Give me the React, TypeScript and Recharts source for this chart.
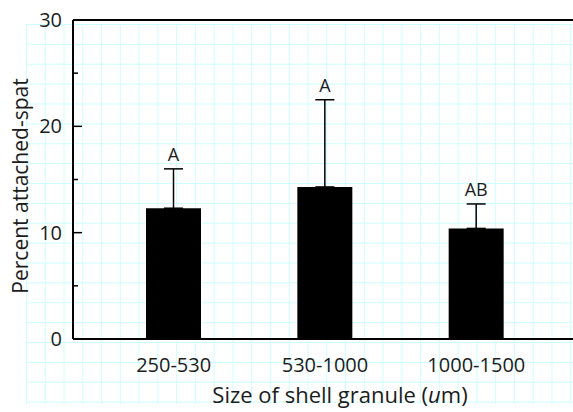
import React from 'react';
import { BarChart, Bar, XAxis, YAxis, ErrorBar, LabelList, ReferenceLine, Label } from 'recharts';

const categories = ['250-530', '530-1000', '1000-1500'];
const means = [12.3, 14.3, 10.4];
const errors = [3.7, 8.2, 2.3];
const letters = ['A', 'A', 'AB'];
const yTicks = [0, 5, 10, 15, 20, 25, 30];

const data = categories.map((name, i) => ({
  name,
  mean: means[i],
  err: [0, errors[i]],
  letter: letters[i],
}));

const FONT = '"Open Sans", sans-serif';
const INK = '#1c1c1c';

const YTick = (props: any) => {
  const { x, y, payload } = props;
  const major = payload.value % 10 === 0;
  return (
    <g>
      <line x1={x} x2={x + (major ? 9 : 5)} y1={y} y2={y} stroke="#000" strokeWidth={1.5} />
      {major && (
        <text x={x - 11} y={y} dy={7} textAnchor="end" fontSize={20} fontFamily={FONT} fill={INK}>
          {payload.value}
        </text>
      )}
    </g>
  );
};

const XTick = (props: any) => {
  const { x, y, payload } = props;
  return (
    <text x={x} y={y + 33} textAnchor="middle" fontSize={20} fontFamily={FONT} fill={INK}>
      {payload.value}
    </text>
  );
};

const renderLetter = (props: any) => {
  const { x, y, width, height, value, index } = props;
  const top = y - (errors[index] * height) / means[index];
  return (
    <text x={x + width / 2} y={top - 8} textAnchor="middle" fontSize={18} fontFamily={FONT} fill={INK}>
      {value}
    </text>
  );
};

const App = () => {
  return (
    <div style={{ position: 'absolute', left: 0, top: 0, width: 573, height: 412, background: '#fff' }}>
      <div
        style={{
          position: 'absolute',
          left: 26,
          top: 24,
          width: 546,
          height: 380,
          backgroundImage:
            'linear-gradient(to right, #ccffff 0, #ccffff 1.2px, transparent 1.2px), linear-gradient(to bottom, #ccffff 0, #ccffff 1.2px, transparent 1.2px)',
          backgroundSize: '18.78px 19.88px',
        }}
      />
      <div style={{ position: 'absolute', left: 0, top: 0 }}>
        <BarChart width={573} height={412} data={data} margin={{ top: 20, right: 0, bottom: 0, left: 0 }}>
          <XAxis
            dataKey="name"
            height={73}
            interval={0}
            tickLine={false}
            tickSize={0}
            tickMargin={0}
            tick={<XTick />}
            axisLine={{ stroke: '#000', strokeWidth: 2 }}
            padding={{ left: 25, right: 21 }}
          >
            <Label
              content={(p: any) => {
                const vb = p.viewBox;
                return (
                  <text x={vb.x + vb.width / 2 + 17} y={vb.y + 64} textAnchor="middle" fontSize={22} fontFamily={FONT} fill={INK}>
                    Size of shell granule (<tspan fontStyle="italic">u</tspan>m)
                  </text>
                );
              }}
            />
          </XAxis>
          <YAxis
            width={73}
            domain={[0, 30]}
            ticks={yTicks}
            interval={0}
            tickLine={false}
            tickSize={0}
            tickMargin={0}
            tick={<YTick />}
            axisLine={{ stroke: '#000', strokeWidth: 2 }}
          >
            <Label
              content={() => (
                <text x={28} y={186} transform="rotate(-90, 28, 186)" textAnchor="middle" fontSize={21} fontFamily={FONT} fill={INK}>
                  Percent attached-spat
                </text>
              )}
            />
          </YAxis>
          <ReferenceLine y={30} stroke="#000" strokeWidth={2} />
          <Bar dataKey="mean" fill="#000" barSize={55} isAnimationActive={false}>
            <ErrorBar dataKey="err" direction="y" width={9.5} stroke="#000" strokeWidth={1.5} isAnimationActive={false} />
            <LabelList dataKey="letter" content={renderLetter} />
          </Bar>
        </BarChart>
      </div>
    </div>
  );
};

export default App;
